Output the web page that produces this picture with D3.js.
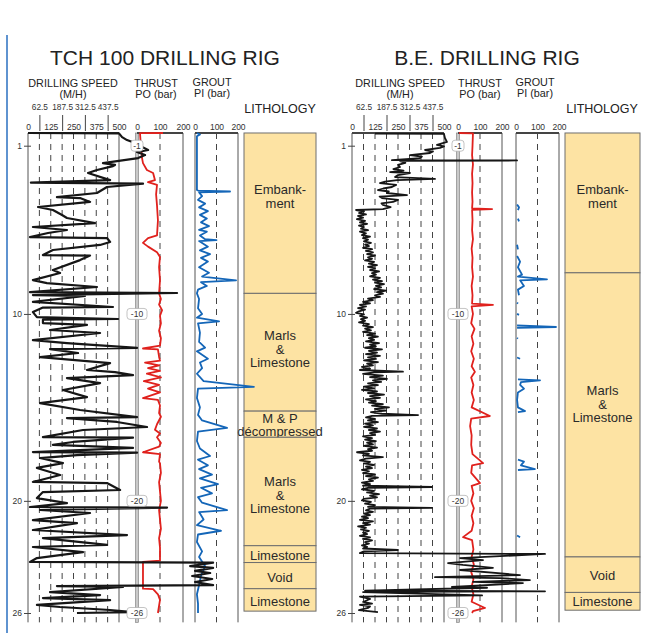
<!DOCTYPE html>
<meta charset="utf-8">
<script src="https://d3js.org/d3.v7.min.js"></script>
<div id="my_dataviz"></div>
<script>

// [depth (m), drilling speed (m/h)]
var tchSpeed = [[0.32,0],[0.34,500],[0.54,517],[0.70,544],[0.86,588],[1.02,616],[1.23,660],[1.34,599],[1.50,643],[1.66,605],[1.93,412],[2.03,478],[2.09,467],[2.30,379],[2.46,330],[2.84,451],[2.98,16],[3.03,632],[3.21,434],[3.53,379],[3.75,159],[3.80,286],[4.01,341],[4.28,55],[4.44,137],[4.71,187],[4.87,214],[5.14,368],[5.35,27],[5.51,214],[5.67,110],[5.89,11],[5.94,434],[6.15,451],[6.31,396],[6.58,137],[6.85,82],[6.88,341],[7.12,286],[7.65,137],[7.81,176],[8.19,27],[8.35,104],[8.56,379],[8.83,11],[8.88,819],[8.99,27],[9.04,313],[9.36,27],[9.63,467],[9.66,82],[9.90,27],[10.17,49],[10.27,495],[10.31,82],[10.49,82],[10.59,324],[10.86,121],[11.02,396],[11.40,27],[11.56,214],[11.82,599],[11.88,121],[12.09,275],[12.31,66],[12.63,451],[13.00,324],[13.11,478],[13.27,577],[13.43,214],[13.70,396],[14.07,192],[14.45,324],[14.77,66],[15.14,286],[15.52,599],[15.57,214],[15.78,489],[16.05,654],[16.21,302],[16.59,82],[16.62,577],[16.85,247],[17.01,137],[17.17,577],[17.39,27],[17.42,599],[17.55,269],[17.71,66],[17.98,192],[18.24,49],[18.62,176],[18.99,27],[19.05,434],[19.42,506],[19.53,82],[19.85,49],[20.12,214],[20.33,11],[20.36,764],[20.49,66],[20.65,341],[21.03,27],[21.19,269],[21.56,27],[21.83,544],[21.99,82],[22.36,434],[22.47,27],[22.74,302],[23.06,49],[23.27,11],[23.31,1017],[23.49,891],[23.59,1017],[23.75,918],[23.86,1001],[24.02,902],[24.18,1012],[24.34,918],[24.51,1017],[24.56,159],[24.61,522],[24.88,121],[25.04,396],[25.20,82],[25.31,451],[25.57,49],[25.68,176],[25.84,451],[25.95,577],[26.00,269]];

// [depth (m), thrust PO (bar)]
var tchThrust = [[0.32,113],[0.33,13],[1.02,17],[1.66,22],[1.93,26],[2.30,43],[2.46,70],[2.84,78],[2.95,48],[3.10,87],[3.60,83],[4.20,87],[5.00,91],[5.80,87],[5.94,48],[6.20,26],[6.40,48],[6.70,87],[6.95,100],[7.50,96],[8.20,100],[8.90,96],[9.20,104],[9.50,96],[9.80,109],[10.10,100],[10.50,104],[10.90,96],[11.30,104],[11.70,100],[11.85,26],[11.90,91],[12.30,96],[12.50,100],[12.60,35],[12.75,96],[12.90,48],[13.05,100],[13.20,43],[13.40,104],[13.60,30],[13.80,96],[14.00,48],[14.20,100],[14.50,26],[14.60,91],[14.90,100],[15.30,96],[15.50,104],[15.90,87],[16.20,78],[16.40,100],[16.60,87],[16.90,104],[17.10,96],[17.40,26],[17.50,100],[17.90,96],[18.00,100],[18.50,104],[19.00,96],[19.50,100],[20.00,104],[20.50,96],[21.00,100],[21.50,104],[22.00,96],[22.50,100],[23.20,100],[23.27,26],[24.70,26],[24.72,70],[25.00,91],[25.30,100],[25.60,96],[26.00,91]];

// [depth (m), grout PI (bar)]
var tchGrout = [[0.32,9],[0.40,23],[0.50,9],[1.00,9],[2.00,9],[3.37,9],[3.40,14],[3.45,163],[3.50,19],[3.70,33],[3.90,14],[4.10,47],[4.30,19],[4.50,60],[4.70,23],[4.90,55],[5.10,28],[5.30,65],[5.50,19],[5.60,55],[5.80,23],[6.00,47],[6.05,100],[6.10,19],[6.40,60],[6.60,23],[6.80,70],[7.00,28],[7.20,60],[7.50,19],[7.80,65],[8.00,33],[8.20,191],[8.30,28],[8.50,55],[8.70,14],[8.90,9],[9.20,19],[9.70,14],[10.00,33],[10.20,9],[10.40,112],[10.50,14],[11.00,23],[11.50,19],[11.80,47],[12.00,9],[12.40,60],[12.60,23],[12.90,33],[13.20,9],[13.60,40],[13.90,274],[14.00,14],[14.50,9],[15.00,23],[15.40,14],[15.70,33],[16.10,149],[16.30,14],[16.80,9],[17.20,23],[17.60,70],[17.80,14],[18.10,60],[18.30,19],[18.60,79],[18.80,23],[19.10,107],[19.30,28],[19.60,79],[19.80,14],[20.10,33],[20.50,149],[20.60,19],[21.00,40],[21.30,9],[21.60,121],[21.80,14],[22.20,9],[22.70,33],[23.00,19],[23.50,47],[24.00,28],[24.50,19],[25.00,9],[25.50,14],[26.00,14]];

var beSpeed = [[0.35,125],[0.37,500],[0.59,505],[0.80,516],[0.96,462],[1.04,500],[1.12,478],[1.23,397],[1.31,440],[1.39,424],[1.50,315],[1.58,380],[1.66,370],[1.77,217],[1.79,897],[1.82,261],[1.92,290],[2.03,250],[2.14,261],[2.25,225],[2.33,280],[2.41,207],[2.46,315],[2.57,250],[2.68,234],[2.78,451],[2.84,245],[2.92,180],[3.00,152],[3.10,240],[3.21,217],[3.29,170],[3.37,141],[3.45,200],[3.53,190],[3.64,299],[3.72,150],[3.80,163],[3.90,250],[4.01,223],[4.09,160],[4.17,168],[4.28,210],[4.39,168],[4.44,22],
  [4.52,65],[4.60,38],[4.68,76],[4.76,33],[4.85,60],[4.93,27],[5.02,71],[5.10,43],[5.18,82],[5.27,38],[5.35,65],[5.44,49],[5.52,87],[5.60,43],[5.69,76],[5.78,54],[5.86,98],[5.95,60],[6.03,87],[6.12,65],[6.20,103],[6.29,71],[6.37,92],[6.46,60],[6.54,109],[6.63,76],[6.71,114],[6.80,82],[6.88,125],[6.97,87],[7.05,109],[7.14,71],[7.22,120],[7.31,92],[7.39,136],[7.48,87],[7.56,125],[7.65,98],[7.73,147],[7.82,109],[7.90,130],[7.99,98],[8.07,152],[8.16,114],[8.24,163],[8.33,125],[8.41,174],[8.50,130],[8.58,158],[8.67,120],[8.75,185],[8.84,136],[8.92,168],[9.01,125],[9.09,152],[9.18,87],[9.26,114],[9.35,60],[9.43,98],[9.52,43],[9.60,76],[9.69,33],[9.77,71],[9.86,38],[9.94,22],
  [10.03,65],[10.11,43],[10.20,82],[10.28,49],[10.37,71],[10.45,38],[10.54,92],[10.62,60],[10.71,114],[10.79,71],[10.88,103],[10.96,60],[11.05,125],[11.13,82],[11.22,141],[11.30,92],[11.39,120],[11.47,76],[11.56,147],[11.64,98],[11.73,130],[11.81,71],[11.90,163],[11.98,92],[12.07,136],[12.15,76],[12.24,152],[12.32,87],[12.41,130],[12.49,65],[12.58,141],[12.66,82],[12.75,114],[12.83,54],[12.92,98],[13.00,43],[13.09,277],[13.13,120],[13.21,60],[13.30,168],[13.38,98],[13.47,190],[13.55,114],[13.64,158],[13.72,87],[13.81,141],[13.89,65],[13.98,120],[14.06,54],[14.15,136],[14.23,87],[14.32,174],[14.40,98],[14.49,152],[14.57,76],[14.66,130],[14.74,92],[14.83,168],[14.91,109],[15.00,201],[15.08,125],[15.17,185],[15.25,103],[15.34,163],[15.41,359],[15.45,109],[15.53,76],[15.62,125],[15.70,87],[15.79,141],[15.87,71],[15.96,114],
  [16.04,65],[16.13,136],[16.21,92],[16.30,152],[16.38,98],[16.47,125],[16.55,60],[16.64,109],[16.72,71],[16.81,130],[16.89,82],[16.98,114],[17.06,65],[17.15,136],[17.23,87],[17.32,109],[17.40,27],[17.49,92],[17.57,60],[17.66,168],[17.74,76],[17.83,43],[17.91,98],[18.00,65],[18.08,120],[18.17,76],[18.25,109],[18.34,54],[18.42,92],[18.51,60],[18.59,125],[18.68,76],[18.76,141],[18.85,92],[18.93,114],[19.02,54],[19.10,98],[19.19,60],[19.26,435],[19.30,87],[19.38,54],[19.47,120],[19.55,82],[19.64,147],[19.72,98],[19.81,136],[19.89,65],[19.98,54],[20.06,103],[20.15,71],[20.23,125],[20.32,87],[20.38,435],[20.42,98],[20.51,76],[20.59,114],[20.68,65],[20.76,98],[20.85,54],[20.93,87],[21.02,43],[21.10,114],[21.19,60],[21.27,98],[21.36,33],[21.44,76],[21.53,49],[21.61,92],[21.70,60],[21.78,82],[21.87,43],[21.95,98],[22.04,60],[22.12,109],[22.21,71],[22.29,92],[22.38,54],[22.46,82],[22.55,60],[22.63,250],[22.70,65],[22.80,43],
  [22.84,1049],[23.06,587],[23.17,712],[23.33,522],[23.43,603],[23.59,766],[23.70,587],[23.97,913],[24.08,451],[24.13,804],[24.24,967],[24.34,658],[24.40,929],[24.61,543],[24.65,734],[24.80,71],[24.84,1049],[24.88,60],[25.06,707],[25.12,43],[25.25,98],[25.41,60],[25.50,109],[25.57,43],[25.65,98],[25.73,87],[25.85,38],[25.95,141]];

var beThrust = [[0.32,5],[0.34,68],[1.00,66],[1.50,64],[2.00,68],[2.50,64],[3.00,66],[3.50,64],[4.00,66],[4.35,64],[4.39,155],[4.43,64],[5.00,66],[5.50,64],[6.00,68],[6.50,62],[7.00,66],[7.50,64],[8.00,68],[8.50,62],[9.00,66],[9.45,64],[9.52,159],[9.60,62],[10.00,68],[10.50,60],[10.80,75],[11.20,62],[11.60,70],[12.00,60],[12.40,72],[12.80,62],[13.10,77],[13.40,60],[13.80,70],[14.20,62],[14.60,72],[15.00,62],[15.46,145],[15.60,60],[16.00,55],[16.50,62],[17.00,60],[17.50,66],[17.98,114],[18.10,64],[18.50,60],[19.05,100],[19.20,62],[19.60,70],[20.00,60],[20.40,72],[20.80,62],[21.20,70],[21.60,62],[21.94,23],[22.10,64],[22.60,70],[23.00,62],[23.40,72],[23.80,60],[24.20,70],[24.60,62],[25.00,70],[25.40,62],[25.73,123],[25.90,68],[26.00,64]];

// null = no record
var beGrout = [[4.15,5],[4.30,14],[4.45,9],null,[4.90,9],[5.05,14],null,[6.30,5],[6.55,9],null,[6.90,5],[7.20,19],[7.50,9],[7.90,28],[8.00,9],[8.15,144],[8.20,19],[8.50,37],[8.70,9],[9.00,14],null,[9.40,5],[9.45,9],null,[10.00,5],[10.05,14],null,[10.62,5],[10.70,186],[10.75,5],null,[11.28,5],[11.32,9],null,[12.33,5],[12.40,19],null,[13.50,9],[13.55,112],[13.65,23],[13.80,19],[14.00,37],[14.20,9],[14.60,5],[15.00,9],[15.20,42],[15.25,9],null,[17.80,9],[17.90,37],[18.10,23],[18.30,88],[18.35,9],null,[21.85,5],[21.95,19]];

// [top, bottom, label depth, label lines]
var tchLitho = [
  [0.32, 8.9, 3.72, ["Embank-", "ment"]],
  [8.9, 15.2, 11.88, ["Marls", "&", "Limestone"]],
  [15.2, 16.6, 15.94, ["M & P", "décompressed"]],
  [16.6, 22.4, 19.7, ["Marls", "&", "Limestone"]],
  [22.4, 23.3, 22.95, ["Limestone"]],
  [23.3, 24.7, 24.08, ["Void"]],
  [24.7, 25.9, 25.4, ["Limestone"]]
];
var beLitho = [
  [0.32, 7.8, 3.72, ["Embank-", "ment"]],
  [7.8, 23.0, 14.82, ["Marls", "&", "Limestone"]],
  [23.0, 24.9, 23.97, ["Void"]],
  [24.9, 25.85, 25.41, ["Limestone"]]
];

var depthTicks = [1, 10, 20, 26];
var speedTicks = [0, 125, 250, 375, 500];
var speedMidTicks = [62.5, 187.5, 312.5, 437.5];
var speedGrid = [62.5, 125, 187.5, 250, 312.5, 375, 437.5];
var barTicks = [0, 100, 200];

var width = 645, height = 638;

var svg = d3.select("#my_dataviz")
  .append("svg")
    .attr("width", width)
    .attr("height", height);

svg.append("rect").attr("width", width).attr("height", height).attr("fill", "#fff");

// frame on the left
svg.append("line")
  .attr("x1", 7).attr("x2", 7).attr("y1", 35).attr("y2", 633)
  .attr("stroke", "#2a6fc0").attr("stroke-width", 1.5);

var y = d3.scaleLinear().domain([1, 26]).range([145.7, 613]);
var topDepth = 0.32, endDepth = 26.5;

var rigs = [
  {title: "TCH 100 DRILLING RIG", titleX: 165,
   speedX: [28, 119], thrustX: [137, 183], groutX: [195, 238], lithoX: [244, 316],
   heads: [73, 156, 212, 280], speedW: 2.2,
   speed: tchSpeed, thrust: tchThrust, grout: tchGrout, litho: tchLitho},
  {title: "B.E. DRILLING RIG", titleX: 487,
   speedX: [352, 444], thrustX: [458, 502], groutX: [516, 559], lithoX: [565, 640],
   heads: [400, 480, 535, 602], speedW: 1.8,
   speed: beSpeed, thrust: beThrust, grout: beGrout, litho: beLitho}
];

rigs.forEach(drawRig);

function header(g, x, lines, y0) {
  var t = g.append("text").attr("class", "head").attr("x", x).attr("y", y0 || 87);
  lines.forEach(function(l, i) {
    t.append("tspan").attr("x", x).attr("dy", i ? 10.5 : 0).text(l);
  });
}

function drawRig(r) {
  var g = svg.append("g");
  var xs = d3.scaleLinear().domain([0, 500]).range(r.speedX);
  var xt = d3.scaleLinear().domain([0, 200]).range(r.thrustX);
  var xg = d3.scaleLinear().domain([0, 200]).range(r.groutX);
  var y0 = y(topDepth), y1 = y(endDepth);

  g.append("text").attr("class", "title").attr("x", r.titleX).attr("y", 65).text(r.title);
  header(g, r.heads[0], ["DRILLING SPEED", "(M/H)"]);
  header(g, r.heads[1], ["THRUST", "PO (bar)"]);
  header(g, r.heads[2], ["GROUT", "PI (bar)"], 86);
  g.append("text").attr("class", "lith-head").attr("x", r.heads[3]).attr("y", 113).text("LITHOLOGY");

  // lithology column
  var lay = g.selectAll(".layer").data(r.litho).enter().append("g");
  lay.append("rect")
      .attr("x", r.lithoX[0])
      .attr("y", function(d) { return y(d[0]); })
      .attr("width", r.lithoX[1] - r.lithoX[0])
      .attr("height", function(d) { return y(d[1]) - y(d[0]); })
      .attr("fill", "#fde3a3")
      .attr("stroke", "#6e6e6e")
      .attr("stroke-width", 1);
  lay.append("text")
      .attr("class", "lith")
      .attr("x", (r.lithoX[0] + r.lithoX[1]) / 2)
      .attr("y", function(d) { return y(d[2]) + 4.5 - (d[3].length - 1) * 6.75; })
    .selectAll("tspan").data(function(d) { return d[3]; }).enter().append("tspan")
      .attr("x", (r.lithoX[0] + r.lithoX[1]) / 2)
      .attr("dy", function(d, i) { return i ? 13.5 : 0; })
      .text(function(d) { return d; });

  // dashed grid lines
  g.selectAll(".sg").data(speedGrid).enter().append("line")
      .attr("class", "dash")
      .attr("x1", xs).attr("x2", xs).attr("y1", y0).attr("y2", y1);
  g.append("line").attr("class", "dash")
      .attr("x1", xt(100)).attr("x2", xt(100)).attr("y1", y0).attr("y2", y1);
  g.append("line").attr("class", "dash")
      .attr("x1", xg(100)).attr("x2", xg(100)).attr("y1", y0).attr("y2", y1);

  // panel borders
  [xs(0), xs(500), xt(200), xg(0)].forEach(function(x) {
    g.append("line").attr("class", "border")
      .attr("x1", x).attr("x2", x).attr("y1", y0).attr("y2", y1);
  });
  g.append("line").attr("class", "border").attr("stroke-width", 1.6).attr("stroke", "#666")
      .attr("x1", xg(200)).attr("x2", xg(200)).attr("y1", y0).attr("y2", y1);
  g.append("rect")
      .attr("x", xt(0) - 1.5).attr("y", y0).attr("width", 3).attr("height", y1 - y0)
      .attr("fill", "#c9c9c9").attr("stroke", "#777").attr("stroke-width", 0.6);
  [[xs(0), xs(500)], [xt(0), xt(200)], [xg(0), xg(200)]].forEach(function(p) {
    g.append("line").attr("class", "topline")
      .attr("x1", p[0]).attr("x2", p[1]).attr("y1", y0).attr("y2", y0);
  });

  // top axes
  g.append("g").attr("class", "ax mid").attr("transform", "translate(0,131)")
      .call(d3.axisTop(xs).tickValues(speedMidTicks).tickSize(16).tickPadding(5).tickFormat(d3.format("")))
      .call(function(a) { a.select(".domain").remove(); });
  g.append("g").attr("class", "ax").attr("transform", "translate(0,131)")
      .call(d3.axisTop(xs).tickValues(speedTicks).tickSize(0).tickPadding(1))
      .call(function(a) { a.select(".domain").remove(); });
  g.append("g").attr("class", "ax").attr("transform", "translate(0,131)")
      .call(d3.axisTop(xt).tickValues(barTicks).tickSize(0).tickPadding(1))
      .call(function(a) { a.select(".domain").remove(); });
  g.append("g").attr("class", "ax").attr("transform", "translate(0,131)")
      .call(d3.axisTop(xg).tickValues(barTicks).tickSize(0).tickPadding(1))
      .call(function(a) { a.select(".domain").remove(); });

  // depth axis
  g.append("g").attr("class", "ax").attr("transform", "translate(" + (xs(0) + 3) + ",0)")
      .call(d3.axisLeft(y).tickValues(depthTicks).tickSize(7).tickPadding(2))
      .call(function(a) { a.select(".domain").remove(); });

  // curves
  var lineS = d3.line().x(function(d) { return xs(d[1]); }).y(function(d) { return y(d[0]); });
  var lineT = d3.line().x(function(d) { return xt(d[1]); }).y(function(d) { return y(d[0]); });
  var lineG = d3.line().defined(function(d) { return d; })
      .x(function(d) { return xg(d[1]); }).y(function(d) { return y(d[0]); });

  g.append("path").datum(r.grout).attr("d", lineG)
      .attr("fill", "none").attr("stroke", "#1466b8").attr("stroke-width", 1.8).attr("stroke-linejoin", "round");
  g.append("path").datum(r.thrust).attr("d", lineT)
      .attr("fill", "none").attr("stroke", "#e0211d").attr("stroke-width", 1.8).attr("stroke-linejoin", "round");
  g.append("path").datum(r.speed).attr("d", lineS)
      .attr("fill", "none").attr("stroke", "#161616").attr("stroke-width", r.speedW).attr("stroke-linejoin", "round");

  // depth marks on the thrust axis
  var m = g.selectAll(".mark").data(depthTicks).enter().append("g")
      .attr("transform", function(d) { return "translate(" + xt(0) + "," + y(d) + ")"; });
  m.append("rect")
      .attr("x", function(d) { return d < 10 ? -6 : -10; })
      .attr("y", -5.5)
      .attr("width", function(d) { return d < 10 ? 12 : 20; })
      .attr("height", 11).attr("rx", 3)
      .attr("fill", "#fff").attr("stroke", "#aaa").attr("stroke-width", 0.7);
  m.append("text").attr("class", "mark").attr("y", 3).text(function(d) { return "-" + d; });
}

</script>

<style>
body { margin: 0; background: #fff; }
text { font-family: "Liberation Sans", Arial, sans-serif; fill: #222; }
.title { font-size: 21px; text-anchor: middle; }
.head { font-size: 10.8px; text-anchor: middle; }
.lith-head { font-size: 12.5px; text-anchor: middle; }
.lith { font-size: 13px; text-anchor: middle; fill: #2a2a2a; }
.ax text { font-family: "Liberation Sans", Arial, sans-serif; font-size: 8.5px; fill: #333; }
.mid text { font-size: 8.3px; }
.ax line { stroke: #444; }
.mark { font-size: 8.5px; text-anchor: middle; fill: #333; }
.dash { stroke: #444; stroke-width: 1; stroke-dasharray: 6,5; }
.border { stroke: #555; stroke-width: 1; }
.topline { stroke: #444; stroke-width: 2; }
</style>
